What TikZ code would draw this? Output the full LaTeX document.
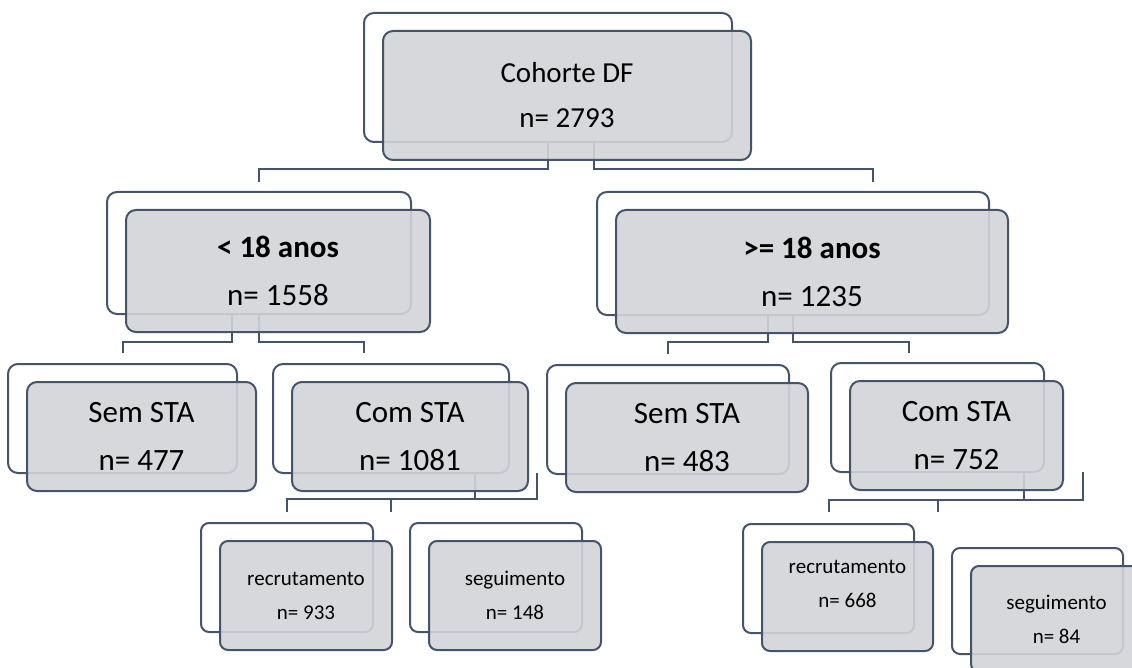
\documentclass[tikz,border=0pt]{standalone}
\usepackage{fontspec}
\setmainfont{Carlito}
\usepackage{tikz}

\definecolor{edge}{HTML}{44546A}
\definecolor{boxgray}{RGB}{211,212,216}

\begin{document}
\begin{tikzpicture}
        [x=1pt,y=-1pt,
         back/.style={draw=edge,line width=2pt,rounded corners=10pt,fill=white,inner sep=0pt,outer sep=0pt},
         front/.style={back,fill=boxgray,fill opacity=.9,text opacity=1,align=center},
         dims/.style 2 args={minimum width=#1pt,minimum height=#2pt},
         link/.style={draw=edge,line width=2pt},
         mid/.style={font=\fontsize{31}{48}\selectfont},
         small/.style={rounded corners=8pt,font=\fontsize{21}{34}\selectfont}]
        \useasboundingbox (0,0) rectangle (1132,668);
        \clip (0,0) rectangle (1132,668);
        % back boxes
        \node[back,dims={368}{129}] (coorte) at (548,77.5) {};
        \node[back,dims={304}{122}] (menor) at (259,253) {};
        \node[back,dims={392}{123}] (maior) at (793,253.5) {};
        \node[back,dims={229}{109}] (semA) at (122.5,418.5) {};
        \node[back,dims={236}{109}] (comA) at (391,418.5) {};
        \node[back,dims={242}{109}] (semB) at (668,419.5) {};
        \node[back,dims={213}{109}] (comB) at (937.5,417.5) {};
        \node[back,small,dims={172}{109}] (recA) at (287,577.5) {};
        \node[back,small,dims={172}{109}] (segA) at (496,577.5) {};
        \node[back,small,dims={171}{109}] (recB) at (828.5,578.5) {};
        \node[back,small,dims={171}{106}] (segB) at (1037.5,601) {};
        % connectors
        \draw[link] (coorte.south) -- ++(0,27) -| ([yshift=10pt]menor.north);
        \draw[link] ([xshift=46pt]coorte.south) -- ++(0,27) -| ([shift={(80pt,10pt)}]maior.north);
        \draw[link] ([xshift=-27pt]menor.south) -- ++(0,28) -| ([yshift=11pt]semA.north);
        \draw[link] (menor.south) -- ++(0,28) -| ([shift={(-27pt,11pt)}]comA.north);
        \draw[link] ([xshift=-25pt]maior.south) -- ++(0,27) -| ([yshift=11pt]semB.north);
        \draw[link] (maior.south) -- ++(0,27) -| ([shift={(-29pt,10pt)}]comB.north);
        \draw[link] ([xshift=84pt]comA.south) -- ++(0,26) -| ([yshift=11pt]recA.north);
        \draw[link] ([xshift=146pt]comA.south) -- ++(0,26) -| ([shift={(-105pt,11pt)}]segA.north);
        \draw[link] ([xshift=86pt]comB.south) -- ++(0,28) -| ([yshift=12pt]recB.north);
        \draw[link] ([xshift=145pt]comB.south) -- ++(0,28) -| ([shift={(-100pt,36pt)}]segB.north);
        % front boxes
        \node[front,dims={368}{129},font=\fontsize{29}{45}\selectfont] (coorte-f) at ([shift={(19pt,-18pt)}]coorte) {Cohorte DF\\n= 2793};
        \node[front,mid,dims={304}{122}] (menor-f) at ([shift={(19pt,-18pt)}]menor) {\textbf{< 18 anos}\\n= 1558};
        \node[front,mid,dims={392}{123}] (maior-f) at ([shift={(19pt,-18pt)}]maior) {\textbf{>= 18 anos}\\n= 1235};
        \node[front,mid,dims={229}{109}] (semA-f) at ([shift={(19pt,-18pt)}]semA) {Sem STA\\n= 477};
        \node[front,mid,dims={236}{109}] (comA-f) at ([shift={(19pt,-18pt)}]comA) {Com STA\\n= 1081};
        \node[front,mid,dims={242}{109}] (semB-f) at ([shift={(19pt,-18pt)}]semB) {Sem STA\\n= 483};
        \node[front,mid,dims={213}{109}] (comB-f) at ([shift={(19pt,-18pt)}]comB) {Com STA\\n= 752};
        \node[front,small,dims={172}{109}] (recA-f) at ([shift={(19pt,-18pt)}]recA) {recrutamento\\n= 933};
        \node[front,small,dims={172}{109}] (segA-f) at ([shift={(19pt,-18pt)}]segA) {seguimento\\n= 148};
        \node[front,small,dims={171}{109}] (recB-f) at ([shift={(19pt,-18pt)}]recB) {recrutamento\\n= 668\\[-8pt]\mbox{}};
        \node[front,small,dims={171}{106}] (segB-f) at ([shift={(19pt,-18pt)}]segB) {seguimento\\n= 84};
\end{tikzpicture}
\end{document}
